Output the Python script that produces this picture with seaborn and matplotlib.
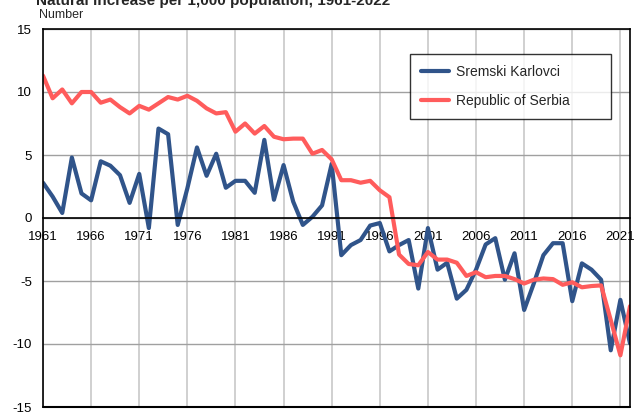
import pandas as pd
import numpy as np
import matplotlib
matplotlib.use("Agg")
import matplotlib.pyplot as plt
import seaborn as sns

years = list(range(1961, 2023))

karlovci = [2.8, 1.7, 0.4, 4.8, 1.95, 1.4, 4.5, 4.15, 3.4, 1.2,
            3.5, -0.8, 7.1, 6.65, -0.55, 2.35, 5.6, 3.35, 5.1, 2.4,
            2.95, 2.95, 2.0, 6.2, 1.45, 4.2, 1.3, -0.55, 0.1, 1.0,
            4.3, -2.95, -2.15, -1.75, -0.6, -0.4, -2.65, -2.15, -1.75, -5.6,
            -0.8, -4.1, -3.55, -6.4, -5.7, -4.1, -2.1, -1.6, -4.9, -2.8,
            -7.3, -5.2, -2.95, -2.0, -2.0, -6.6, -3.6, -4.1, -4.9, -10.5,
            -6.5, -9.95]

serbia = [11.3, 9.5, 10.2, 9.1, 10.0, 10.0, 9.15, 9.4, 8.8, 8.3,
          8.9, 8.6, 9.1, 9.6, 9.4, 9.7, 9.3, 8.7, 8.3, 8.4,
          6.85, 7.5, 6.7, 7.3, 6.45, 6.25, 6.3, 6.3, 5.1, 5.4,
          4.65, 3.0, 3.0, 2.8, 2.95, 2.2, 1.65, -2.9, -3.65, -3.75,
          -2.7, -3.3, -3.3, -3.55, -4.6, -4.3, -4.7, -4.6, -4.6, -4.85,
          -5.2, -4.9, -4.8, -4.85, -5.3, -5.1, -5.5, -5.4, -5.35, -8.1,
          -10.9, -7.0]

series_names = ["Sremski Karlovci", "Republic of Serbia"]
colors = ["#30548a", "#ff5c5c"]

df = pd.DataFrame({
    "year": years * 2,
    "value": karlovci + serbia,
    "area": [series_names[0]] * len(years) + [series_names[1]] * len(years),
})

sns.set_theme(style="white")
plt.rcParams["font.family"] = ["Liberation Sans", "DejaVu Sans"]
plt.rcParams["axes.unicode_minus"] = False

fig = plt.figure(figsize=(6.44, 4.12), dpi=100)
ax = fig.add_axes([43 / 644, 1 - 407 / 412, (630 - 43) / 644, (407 - 29) / 412])

sns.lineplot(data=df, x="year", y="value", hue="area", palette=colors,
             linewidth=3.0, ax=ax, legend=True)

ax.set_xlim(1961, 2022)
ax.set_ylim(-15, 15)
ax.set_xticks(range(1961, 2022, 5))
ax.set_yticks(range(-15, 16, 5))
ax.grid(True, axis="x", color="#c8c8c8", linewidth=1.2)
ax.grid(True, axis="y", color="#a0a0a0", linewidth=1.0)
ax.set_axisbelow(True)
ax.set_xlabel("")
ax.set_ylabel("")

# x axis sits on the zero line
ax.spines["bottom"].set_position(("data", 0))
for s in ["bottom", "left", "top", "right"]:
    ax.spines[s].set_color("black")
    ax.spines[s].set_linewidth(1.2)
ax.axhline(-15, color="black", linewidth=1.5, clip_on=False, zorder=3)
ax.tick_params(axis="both", length=0, labelsize=9.5, colors="black")
ax.tick_params(axis="x", pad=9)
ax.tick_params(axis="y", pad=8)

leg = ax.legend(loc="upper left", bbox_to_anchor=(0.625, 0.935, 0.343, 0.0),
                mode="expand", frameon=True, fancybox=False, fontsize=10,
                handlelength=2.0, handletextpad=0.5, borderpad=0.8,
                labelspacing=1.1, borderaxespad=0)
leg.get_frame().set_edgecolor("black")
leg.get_frame().set_linewidth(1.0)
for line in leg.get_lines():
    line.set_linewidth(3.0)

fig.text(36 / 644, 1 - 5 / 412, "Natural increase per 1,000 population, 1961-2022",
         fontsize=11, fontweight="bold", va="baseline", ha="left")
fig.text(39 / 644, 1 - 15 / 412, "Number", fontsize=9, va="center", ha="left")

fig.savefig("out.png", dpi=100)
